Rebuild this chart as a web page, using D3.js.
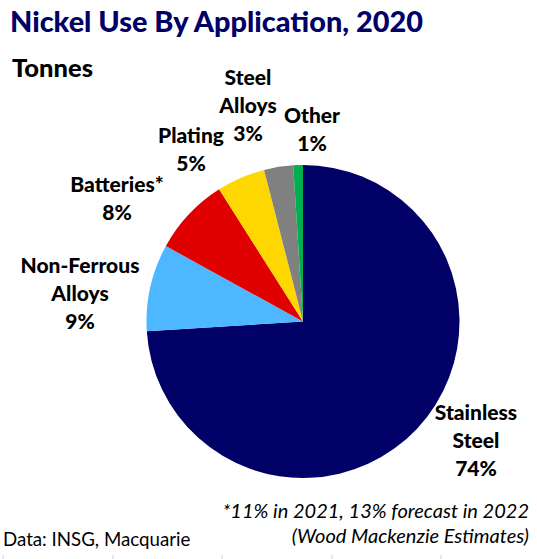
<!DOCTYPE html>
<html>
<head>
<meta charset="utf-8">
<script src="https://cdn.jsdelivr.net/npm/d3@7"></script>
<style>
  body { margin: 0; background: #fff; }
  svg { display: block; font-family: Lato, "Open Sans", sans-serif; }
  .lbl { font-weight: 900; font-size: 21px; fill: #000; text-anchor: middle; }
</style>
</head>
<body>
<svg id="chart" width="537" height="559"></svg>
<script>
const categories = ["Stainless Steel", "Non-Ferrous Alloys", "Batteries*", "Plating", "Steel Alloys", "Other"];
const shares = [74, 9, 8, 5, 3, 1];
const labelLines = [
  ["Stainless", "Steel"],
  ["Non-Ferrous", "Alloys"],
  ["Batteries*"],
  ["Plating"],
  ["Steel", "Alloys"],
  ["Other"]
];
const sliceColors = ["#000066", "#4db8ff", "#e00000", "#ffd700", "#808080", "#00b050"];

// label block centres (first line baseline), hand-placed like the original
const labelAnchors = [
  [476, 420], [80, 273], [117, 192], [191, 143], [248, 85], [312, 123]
];

const svg = d3.select("#chart");
const cx = 303, cy = 321.5, radius = 156.5;
const lineHeight = 28;

svg.append("text")
  .attr("x", 10).attr("y", 32)
  .attr("font-size", 28).attr("font-weight", 900)
  .attr("fill", "#000066")
  .attr("textLength", 413).attr("lengthAdjust", "spacingAndGlyphs")
  .text("Nickel Use By Application, 2020");

svg.append("text")
  .attr("x", 12).attr("y", 77)
  .attr("font-size", 24).attr("font-weight", 900)
  .attr("fill", "#000")
  .attr("textLength", 81).attr("lengthAdjust", "spacingAndGlyphs")
  .text("Tonnes");

const data = categories.map((c, i) => ({ name: c, value: shares[i], color: sliceColors[i], lines: labelLines[i], anchor: labelAnchors[i] }));

const pie = d3.pie().sort(null).value((d) => d.value).startAngle(0).endAngle(2 * Math.PI);
const arc = d3.arc().innerRadius(0).outerRadius(radius);

const pieLayer = svg.append("g").attr("transform", `translate(${cx},${cy})`);
pieLayer.selectAll("path")
  .data(pie(data))
  .join("path")
  .attr("d", arc)
  .attr("fill", (d) => d.data.color);

const labels = svg.append("g").selectAll("text")
  .data(data)
  .join("text")
  .attr("class", "lbl")
  .attr("x", (d) => d.anchor[0])
  .attr("y", (d) => d.anchor[1]);

labels.each(function (d) {
  const t = d3.select(this);
  const rows = d.lines.concat([`${d.value}%`]);
  rows.forEach((row, i) => {
    t.append("tspan")
      .attr("x", d.anchor[0])
      .attr("dy", i === 0 ? 0 : lineHeight)
      .text(row);
  });
});

const notes = svg.append("g")
  .attr("font-style", "italic")
  .attr("font-size", 20)
  .attr("fill", "#000")
  .attr("text-anchor", "end");
notes.append("text").attr("x", 529).attr("y", 518).text("*11% in 2021, 13% forecast in 2022");
notes.append("text").attr("x", 529).attr("y", 543).text("(Wood Mackenzie Estimates)");

svg.append("text")
  .attr("x", 3).attr("y", 546)
  .attr("font-size", 18.7)
  .attr("fill", "#000")
  .text("Data: INSG, Macquarie");

// faint sheet gridline stubs along the bottom edge
const cellEdges = [3, 113, 222, 332, 441];
svg.append("g").selectAll("line")
  .data(cellEdges)
  .join("line")
  .attr("x1", (d) => d).attr("x2", (d) => d)
  .attr("y1", 555).attr("y2", 559)
  .attr("stroke", "#d0d0d0");
</script>
</body>
</html>
